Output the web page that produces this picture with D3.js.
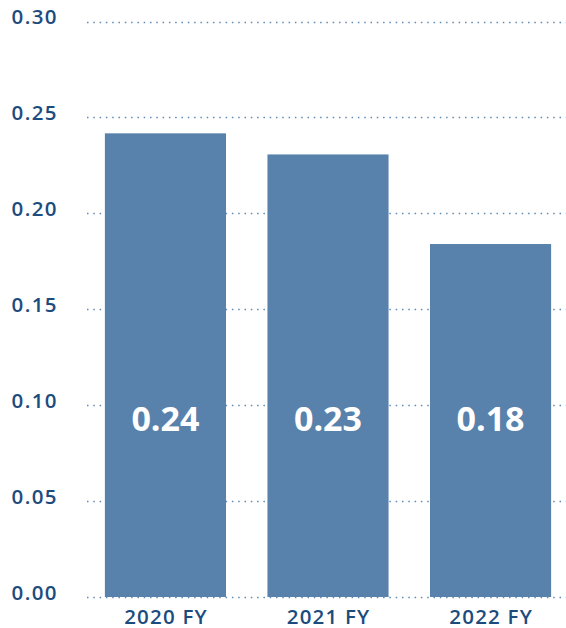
<!DOCTYPE html>
<html>
<head>
<meta charset="utf-8">
<script src="https://d3js.org/d3.v7.min.js"></script>
<style>
  body { margin: 0; background: #fff; }
  text { font-family: "Open Sans", sans-serif; }
</style>
</head>
<body>
<svg width="566" height="628"></svg>
<script>
var years = ["2020 FY", "2021 FY", "2022 FY"];
var values = [0.2417, 0.2307, 0.184];
var labels = ["0.24", "0.23", "0.18"];
var ticks = [0, 0.05, 0.10, 0.15, 0.20, 0.25, 0.30];

var svg = d3.select("svg");
var barColor = "#5882ab", textColor = "#1c4c7e";

var x = d3.scaleBand().domain(years).range([87, 569]).paddingInner(0.255).paddingOuter(0.11);
var y = d3.scaleLinear().domain([0, 0.3]).range([597, 21.5]);

// dotted gridlines
svg.append("g").selectAll("line")
  .data(ticks).enter().append("line")
  .attr("x1", 87).attr("x2", 566)
  .attr("y1", function(d) { return Math.round(y(d)) + 0.5; })
  .attr("y2", function(d) { return Math.round(y(d)) + 0.5; })
  .attr("stroke", "#5f8ab3")
  .attr("stroke-width", 1.3)
  .attr("stroke-dasharray", "1.5,4.8");

// y axis labels
svg.append("g").selectAll("text")
  .data(ticks).enter().append("text")
  .attr("x", 58)
  .attr("y", function(d) { return y(d) - 4.5; })
  .attr("dy", "0.35em")
  .attr("text-anchor", "end")
  .attr("font-size", "20.5px")
  .attr("font-weight", 600)
  .attr("letter-spacing", "1.4px")
  .attr("fill", textColor)
  .text(function(d) { return d3.format(".2f")(d); });

// bars
svg.append("g").selectAll("rect")
  .data(values).enter().append("rect")
  .attr("x", function(d, i) { return x(years[i]); })
  .attr("y", function(d) { return y(d); })
  .attr("width", x.bandwidth())
  .attr("height", function(d) { return y(0) - y(d); })
  .attr("fill", barColor);

// value labels
svg.append("g").selectAll("text")
  .data(labels).enter().append("text")
  .attr("x", function(d, i) { return x(years[i]) + x.bandwidth() / 2; })
  .attr("y", 419)
  .attr("dy", "0.35em")
  .attr("text-anchor", "middle")
  .attr("font-size", "34px")
  .attr("font-weight", 700)
  .attr("fill", "#fff")
  .text(function(d) { return d; });

// x labels
svg.append("g").selectAll("text")
  .data(years).enter().append("text")
  .attr("x", function(d) { return x(d) + x.bandwidth() / 2 + 0.6; })
  .attr("y", 617)
  .attr("dy", "0.35em")
  .attr("text-anchor", "middle")
  .attr("font-size", "20.5px")
  .attr("font-weight", 600)
  .attr("letter-spacing", "1.2px")
  .attr("fill", textColor)
  .text(function(d) { return d; });
</script>
</body>
</html>
